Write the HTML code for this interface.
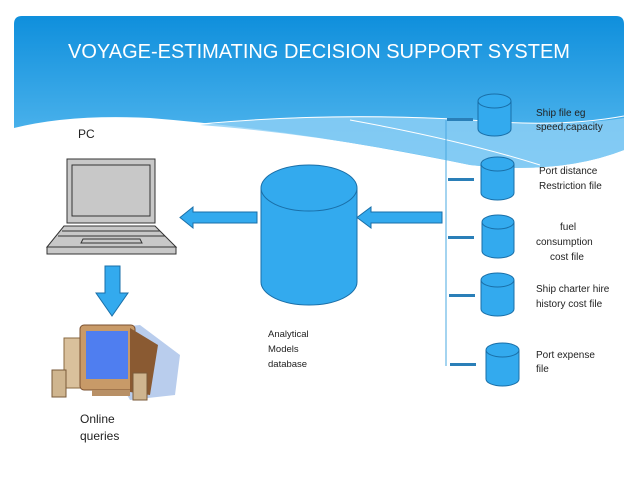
<!DOCTYPE html>
<html><head><style>
body{margin:0;background:#fff;}
svg{display:block;font-family:"Liberation Sans",sans-serif;}
</style></head><body>
<svg width="638" height="479" viewBox="0 0 638 479" xmlns="http://www.w3.org/2000/svg">
<defs>
<linearGradient id="g" x1="0" y1="0" x2="0" y2="1">
<stop offset="0" stop-color="#0f8fdc"/><stop offset="1" stop-color="#5cbcf0"/>
</linearGradient>
<marker id="m"></marker>
</defs>
<path d="M22 16 H616 Q624 16 624 24 V150 Q560 175 470 165 Q300 130 150 118 Q70 114 14 128 V24 Q14 16 22 16 Z" fill="url(#g)"/>
<path d="M200 125 Q330 110 470 120 Q560 128 624 118 V150 Q560 175 470 165 Q330 135 200 125Z" fill="#8fd0f5" opacity="0.8"/>
<path d="M200 124 Q330 112 470 120 Q560 128 624 116" fill="none" stroke="#fff" stroke-width="1"/>
<path d="M350 120 Q460 140 540 165" fill="none" stroke="#fff" stroke-width="1"/>
<text x="319" y="58" fill="#fff" font-size="20" text-anchor="middle">VOYAGE-ESTIMATING DECISION SUPPORT SYSTEM</text>
<text x="78" y="138" font-size="12" fill="#222">PC</text>

<!-- laptop -->
<rect x="67" y="159" width="88" height="64" fill="#c8c8c8" stroke="#333"/>
<rect x="72" y="165" width="78" height="51" fill="#c8c8c8" stroke="#333"/>
<path d="M64 226 H155 L176 247 H47 Z" fill="#c8c8c8" stroke="#333"/>
<line x1="62" y1="231" x2="160" y2="231" stroke="#333"/>
<line x1="58" y1="236" x2="165" y2="236" stroke="#333"/>
<path d="M83 239 H140 L142 243 H81 Z" fill="#c8c8c8" stroke="#333"/>
<rect x="47" y="247" width="129" height="7" fill="#c8c8c8" stroke="#333"/>

<!-- down arrow -->
<path d="M105 266 H120 V293 H128 L112 316 L96 293 H105 Z" fill="#33aaee" stroke="#1a6fa8"/>
<!-- computer -->
<rect x="64" y="338" width="18" height="50" fill="#d9c09c" stroke="#8a6a40"/>
<path d="M90 330 L140 325 L160 340 L180 355 L175 395 L130 400 Z" fill="#a8c0e8" opacity="0.8"/>
<rect x="80" y="325" width="55" height="65" rx="4" fill="#c89a68" stroke="#7a5030"/>
<path d="M130 328 L158 345 L150 395 L130 392Z" fill="#8a5a32"/>
<rect x="86" y="331" width="42" height="48" fill="#4f7ef0"/>
<rect x="52" y="370" width="14" height="27" fill="#cfb58f" stroke="#7a5a3a"/>
<rect x="133" y="373" width="14" height="27" fill="#cfb58f" stroke="#7a5a3a"/>
<rect x="92" y="390" width="38" height="6" fill="#b89066"/>
<text x="80" y="423" font-size="12" fill="#222">Online</text>
<text x="80" y="440" font-size="12" fill="#222">queries</text>

<!-- arrows -->
<path d="M257 212 H193 V207 L180 217.5 L193 228 V223 H257 Z" fill="#33aaee" stroke="#1a6fa8"/>
<path d="M442 212 H371 V207 L357 217.5 L371 228 V223 H442 Z" fill="#33aaee" stroke="#1a6fa8"/>

<!-- big cylinder -->
<path d="M261 188 V282 A48 23 0 0 0 357 282 V188" fill="#33aaee" stroke="#1a6fa8"/>
<ellipse cx="309" cy="188" rx="48" ry="23" fill="#33aaee" stroke="#1a6fa8"/>
<text font-size="9.5" fill="#222"><tspan x="268" y="337">Analytical</tspan><tspan x="268" y="352">Models</tspan><tspan x="268" y="367">database</tspan></text>

<line x1="446" y1="120" x2="446" y2="366" stroke="#4aa8e0" stroke-width="1"/>
<g fill="#2a7fb8"><rect x="447" y="118" width="26" height="3"/><rect x="448" y="178" width="26" height="3"/><rect x="448" y="236" width="26" height="3"/><rect x="449" y="294" width="26" height="3"/><rect x="450" y="363" width="26" height="3"/></g>
<g fill="#33aaee" stroke="#1a6fa8">
<path d="M478 101 V129 A16.5 7 0 0 0 511 129 V101"/><ellipse cx="494.5" cy="101" rx="16.5" ry="7"/>
<path d="M481 164 V193 A16.5 7 0 0 0 514 193 V164"/><ellipse cx="497.5" cy="164" rx="16.5" ry="7"/>
<path d="M482 222 V251 A16 7 0 0 0 514 251 V222"/><ellipse cx="498" cy="222" rx="16" ry="7"/>
<path d="M481 280 V309 A16.5 7 0 0 0 514 309 V280"/><ellipse cx="497.5" cy="280" rx="16.5" ry="7"/>
<path d="M486 350 V379 A16.5 7 0 0 0 519 379 V350"/><ellipse cx="502.5" cy="350" rx="16.5" ry="7"/>
</g>
<g font-size="10" fill="#222">
<text x="536" y="116">Ship file eg</text><text x="536" y="130">speed,capacity</text>
<text x="539" y="174">Port distance</text><text x="539" y="189">Restriction file</text>
<text x="560" y="230">fuel</text><text x="536" y="245">consumption</text><text x="550" y="260">cost file</text>
<text x="536" y="292">Ship charter hire</text><text x="536" y="307">history cost  file</text>
<text x="536" y="358">Port expense</text><text x="536" y="372">file</text>
</g>
</svg>
</body></html>
